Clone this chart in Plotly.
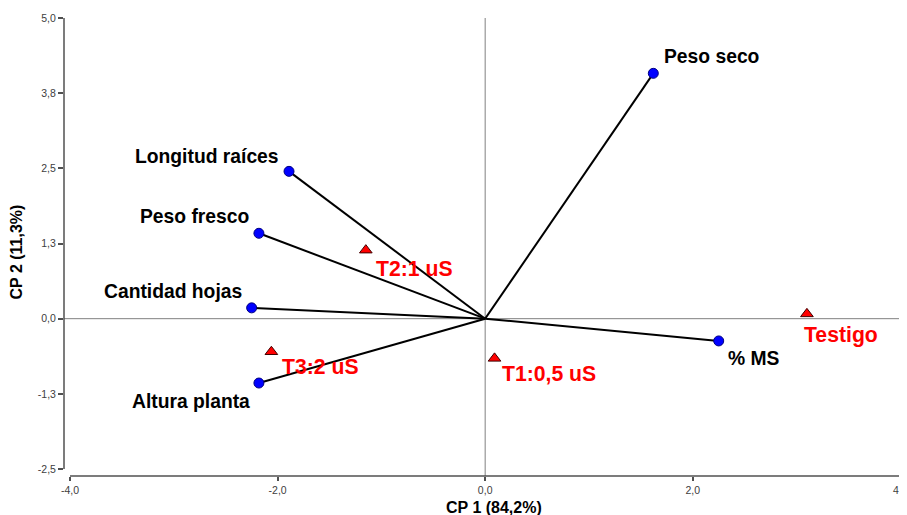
import plotly.graph_objects as go

# ---- data ----
var_names = ["Peso seco", "Longitud raíces", "Peso fresco", "Cantidad hojas", "Altura planta", "% MS"]
var_x = [1.62, -1.89, -2.18, -2.25, -2.18, 2.25]
var_y = [4.08, 2.45, 1.42, 0.18, -1.07, -0.37]

trt_names = ["T2:1 uS", "T3:2 uS", "T1:0,5 uS", "Testigo"]
trt_x = [-1.15, -2.06, 0.09, 3.10]
trt_y = [1.14, -0.55, -0.66, 0.08]

x_tickvals = [-4.0, -2.0, 0.0, 2.0, 4.0]
x_ticktext = ["-4,0", "-2,0", "0,0", "2,0", "4,0"]
y_tickvals = [-2.5, -1.25, 0.0, 1.25, 2.5, 3.75, 5.0]
y_ticktext = ["-2,5", "-1,3", "0,0", "1,3", "2,5", "3,8", "5,0"]

x_title = "CP 1 (84,2%)"
y_title = "CP 2 (11,3%)"

# ---- label placement (styling) ----
var_label_pos = [  # (xanchor, xshift, yshift)
    ("left", 9, 17),
    ("right", -8, 15),
    ("right", -7, 17),
    ("right", -8, 16),
    ("right", -7, -18),
    ("left", 7, -18),
]
trt_label_pos = [
    ("left", 8, -18),
    ("left", 9, -15),
    ("left", 5, -15),
    ("left", -5, -21),
]

fig = go.Figure()

# vectors from origin
for vx, vy in zip(var_x, var_y):
    fig.add_trace(go.Scatter(x=[0, vx], y=[0, vy], mode="lines",
                             line=dict(color="black", width=2),
                             hoverinfo="skip", showlegend=False))

fig.add_trace(go.Scatter(x=var_x, y=var_y, mode="markers", text=var_names,
                         marker=dict(symbol="circle", size=10, color="#0000FF",
                                     line=dict(color="#000080", width=1)),
                         showlegend=False))
fig.add_trace(go.Scatter(x=trt_x, y=trt_y, mode="markers", text=trt_names,
                         marker=dict(symbol="triangle-up", size=11, color="#FF0000",
                                     line=dict(color="#400000", width=1)),
                         showlegend=False))

label_font = dict(family="Liberation Sans, Arial, sans-serif", size=19.3, color="black", weight="bold")
red_font = dict(family="Liberation Sans, Arial, sans-serif", size=21.2, color="#FF0000", weight="bold")

for name, vx, vy, (xa, xs, ys) in zip(var_names, var_x, var_y, var_label_pos):
    fig.add_annotation(x=vx, y=vy, text=name, showarrow=False, xanchor=xa, yanchor="middle",
                       xshift=xs, yshift=ys, font=label_font)
for name, tx, ty, (xa, xs, ys) in zip(trt_names, trt_x, trt_y, trt_label_pos):
    fig.add_annotation(x=tx, y=ty, text=name, showarrow=False, xanchor=xa, yanchor="middle",
                       xshift=xs, yshift=ys, font=red_font)

# axis titles
fig.add_annotation(x=0.511, y=-0.068, xref="paper", yref="paper", text=x_title, showarrow=False,
                   xanchor="center", yanchor="middle",
                   font=dict(family="Liberation Sans, Arial, sans-serif", size=16, color="black", weight="bold"))
fig.add_annotation(x=-0.056, y=0.49, xref="paper", yref="paper", text=y_title, showarrow=False,
                   textangle=-90, xanchor="center", yanchor="middle",
                   font=dict(family="Liberation Sans, Arial, sans-serif", size=16, color="black", weight="bold"))

# zero reference lines
fig.add_shape(type="line", xref="x", yref="paper", x0=0, x1=0, y0=0, y1=1,
              line=dict(color="#808080", width=1), layer="below")
fig.add_shape(type="line", xref="paper", yref="y", x0=0, x1=0.995, y0=0, y1=0,
              line=dict(color="#808080", width=1), layer="below")
# axis lines (offset style)
fig.add_shape(type="line", xref="paper", yref="y", x0=0, x1=0, y0=-2.5, y1=5.0,
              line=dict(color="#505050", width=1.5))
fig.add_shape(type="line", xref="x", yref="paper", x0=-4.0, x1=4.0, y0=0, y1=0,
              line=dict(color="#505050", width=1.5))

tick_font = dict(family="Liberation Sans Narrow, Arial Narrow, Liberation Sans, sans-serif", size=10.5, color="#404040")

# page body has an 8px margin; figure is sized/offset to compensate
fig.update_layout(
    width=899, height=507,
    margin=dict(l=56, r=2, t=10, b=39, autoexpand=False),
    paper_bgcolor="white", plot_bgcolor="white",
    xaxis=dict(range=[-4.058, 4.045], tickvals=x_tickvals, ticktext=x_ticktext,
               showgrid=False, zeroline=False, showline=False, automargin=False,
               ticks="outside", ticklen=4, tickcolor="#505050", tickwidth=1.5,
               tickfont=tick_font, ticklabeloverflow="allow"),
    yaxis=dict(range=[-2.616, 5.0], tickvals=y_tickvals, ticktext=y_ticktext,
               showgrid=False, zeroline=False, showline=False, automargin=False,
               ticks="outside", ticklen=5, tickcolor="#505050", tickwidth=1.5,
               tickfont=tick_font, ticklabeloverflow="allow"),
    showlegend=False,
)

fig.write_html("out.html")
